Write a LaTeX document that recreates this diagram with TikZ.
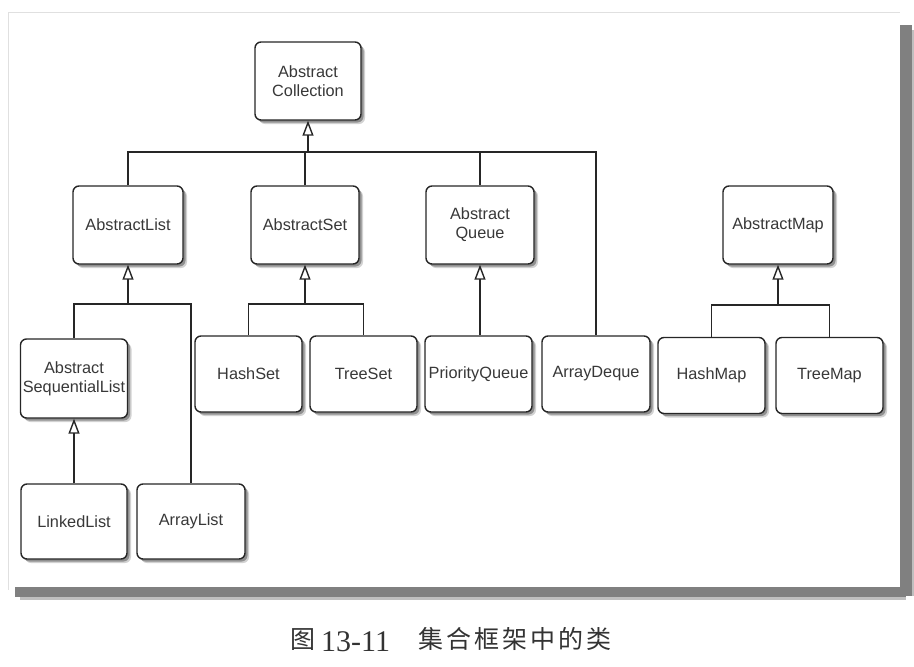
\documentclass[tikz,border=0pt]{standalone}
\usepackage{fontspec}
\setmainfont{Liberation Sans}
\newfontfamily\cjk[LetterSpace=12]{Noto Sans CJK SC}
\newfontfamily\serifnum{Liberation Serif}
\usetikzlibrary{arrows.meta,shadows}
\begin{document}
\begin{tikzpicture}[x=1pt,y=-1pt,
  cls/.style={draw=black!85, line width=1.4pt, rounded corners=6pt, fill=white,
    minimum width=107pt, minimum height=77pt, align=center, inner sep=1pt,
    font=\fontsize{16.3}{19}\selectfont, text=black!78,
    drop shadow={shadow xshift=4pt,shadow yshift=-4pt,fill=black!35},
    drop shadow={shadow xshift=2.5pt,shadow yshift=-2.5pt,fill=black!70}},
  conn/.style={draw=black!85, line width=1.4pt},
  inh/.style={conn, -{Triangle[open, length=15pt, width=11pt, line width=1.4pt]}}
]
\useasboundingbox (0,0) rectangle (914,667);
% frame
\draw[black!12, line width=1pt] (8,590) -- (8,12) -- (900,12);
\fill[black!50] (900,25) rectangle (912,596);
\fill[black!50] (15,587) rectangle (906,597);
\fill[black!25] (912,30) rectangle (914,596);
\fill[black!25] (20,597) rectangle (906,600);
% nodes
\node[cls, minimum width=106pt, minimum height=78pt] (ac) at (308,81) {Abstract\\Collection};
\node[cls, minimum width=110pt, minimum height=78pt] (al) at (128,225) {AbstractList};
\node[cls, minimum width=108pt, minimum height=78pt] (as) at (305,225) {AbstractSet};
\node[cls, minimum width=108pt, minimum height=78pt] (aq) at (480,225) {Abstract\\Queue};
\node[cls, minimum width=110pt, minimum height=78pt] (am) at (778,225) {AbstractMap};
\node[cls, minimum height=79pt] (asl) at (74,378.5) {Abstract\\SequentialList};
\node[cls, minimum height=76pt] (hs) at (248.5,374) {HashSet};
\node[cls, minimum height=76pt] (ts) at (363.5,374) {TreeSet};
\node[cls, minimum height=76pt] (pq) at (478.5,374) {PriorityQueue};
\node[cls, minimum width=108pt, minimum height=76pt] (ad) at (596,374) {ArrayDeque};
\node[cls, minimum height=76pt] (hm) at (711.5,375.5) {HashMap};
\node[cls, minimum height=76pt] (tm) at (829.5,375.5) {TreeMap};
\node[cls, minimum width=106pt, minimum height=75pt] (ll) at (74,521.5) {LinkedList};
\node[cls, minimum width=108pt, minimum height=75pt] (arl) at (191,521.5) {ArrayList};
% connectors
\coordinate (b1) at (308,152);
\coordinate (b2) at (128,304);
\coordinate (b3) at (305,304);
\coordinate (b4) at (778,305);
\draw[conn] (al.north) |- (ad.north |- b1) -- (ad.north);
\draw[conn] (as.north) -- (as.north |- b1);
\draw[conn] (aq.north) -- (aq.north |- b1);
\draw[inh] (b1) -- (ac.south);
\draw[conn] (asl.north) |- (arl.north |- b2) -- (arl.north);
\draw[inh] (b2) -- (al.south);
\draw[conn] (hs.north) |- (ts.north |- b3) -- (ts.north);
\draw[inh] (b3) -- (as.south);
\draw[inh] (pq.north -| aq.south) -- (aq.south);
\draw[inh] (ll.north) -- (asl.south);
\draw[conn] (hm.north) |- (tm.north |- b4) -- (tm.north);
\draw[inh] (b4) -- (am.south);
% caption
\node[anchor=base west, font=\cjk\fontsize{25}{30}\selectfont, text=black!80, inner sep=0pt] (c1) at (290,648) {图};
\node[anchor=base west, font=\serifnum\fontsize{30}{32}\selectfont, text=black!80, inner sep=0pt] (c2) at (321,651) {13-11};
\node[anchor=base west, font=\cjk\fontsize{25}{30}\selectfont, text=black!80, inner sep=0pt] (c3) at (418,648) {集合框架中的类};
\end{tikzpicture}
\end{document}
